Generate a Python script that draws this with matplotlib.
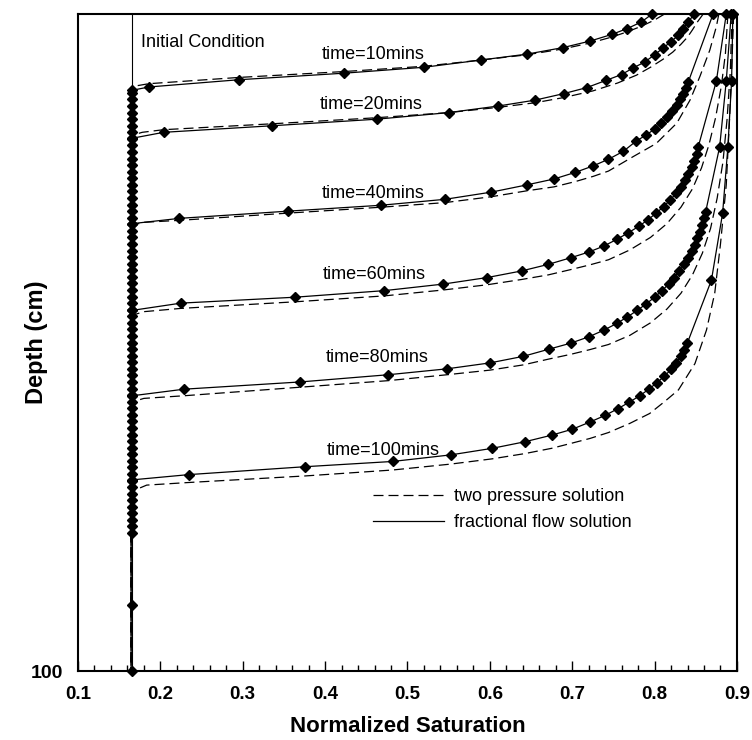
import matplotlib
matplotlib.use('Agg')
import matplotlib.pyplot as plt
from matplotlib.ticker import MultipleLocator

plt.rcParams['font.family'] = ['Liberation Sans', 'DejaVu Sans']

# initial saturation column (fractional flow markers below the fronts)
init_sat = 0.166
init_depth = [0, 100]
column_depth = [12, 13, 14, 15, 16, 17, 18, 19, 20, 21, 22, 23, 24, 25, 26, 27,
                28, 29, 30, 31, 32, 33, 34, 35, 36, 37, 38, 39, 40, 41, 42, 43,
                44, 45, 46, 47, 48, 49, 50, 51, 52, 53, 54, 55, 56, 57, 58, 59,
                60, 61, 62, 63, 64, 65, 66, 67, 68, 69, 70, 71, 72, 73, 74, 75,
                76, 77, 78, 79, 90, 100]

# fractional flow solution (solid, diamonds)
ff_s10 = [0.797, 0.784, 0.767, 0.748, 0.722, 0.689, 0.645, 0.589, 0.520, 0.423,
          0.295, 0.186, 0.166]
ff_d10 = [0.0, 1.2, 2.2, 3.1, 4.1, 5.1, 6.1, 7.0, 8.1, 9.0, 10.0, 11.1, 11.6]

ff_s20 = [0.848, 0.841, 0.835, 0.829, 0.820, 0.810, 0.800, 0.788, 0.774, 0.760,
          0.741, 0.7175, 0.690, 0.655, 0.610, 0.550, 0.463, 0.336, 0.204, 0.166]
ff_d20 = [0.0, 1.2, 2.2, 3.2, 4.2, 5.2, 6.2, 7.3, 8.2, 9.2, 10.1, 11.2, 12.1,
          13.1, 14.0, 15.0, 16.0, 17.0, 18.0, 18.9]

ff_s40 = [0.871, 0.841, 0.838, 0.835, 0.831, 0.827, 0.821, 0.815, 0.808, 0.800,
          0.790, 0.778, 0.762, 0.744, 0.7256, 0.7037, 0.678, 0.645, 0.602,
          0.5455, 0.468, 0.355, 0.223, 0.166]
ff_d40 = [0.0, 10.3, 11.2, 12.1, 13.0, 13.9, 14.8, 15.7, 16.6, 17.5, 18.4, 19.3,
          20.9, 22.1, 23.1, 24.1, 25.1, 26.0, 27.1, 28.2, 29.1, 30.0, 31.1, 31.9]

ff_s60 = [0.887, 0.875, 0.853, 0.851, 0.848, 0.845, 0.841, 0.837, 0.832, 0.826,
          0.819, 0.811, 0.802, 0.792, 0.781, 0.768, 0.754, 0.7386, 0.7207,
          0.698, 0.671, 0.6386, 0.597, 0.5435, 0.4718, 0.3634, 0.225, 0.166]
ff_d60 = [0.0, 10.2, 20.2, 21.3, 22.3, 23.3, 24.3, 25.3, 26.3, 27.3, 28.3, 29.3,
          30.3, 31.3, 32.3, 33.3, 34.3, 35.3, 36.2, 37.1, 38.1, 39.1, 40.1,
          41.1, 42.1, 43.1, 44.0, 45.1]

ff_s80 = [0.893, 0.887, 0.879, 0.862, 0.860, 0.858, 0.855, 0.852, 0.849, 0.845,
          0.841, 0.836, 0.830, 0.824, 0.817, 0.809, 0.800, 0.790, 0.779, 0.767,
          0.754, 0.7386, 0.7207, 0.698, 0.672, 0.6406, 0.600, 0.548, 0.4767,
          0.3695, 0.2287, 0.166]
ff_d80 = [0.0, 10.2, 20.2, 30.1, 31.1, 32.1, 33.1, 34.1, 35.1, 36.1, 37.1, 38.1,
          39.1, 40.1, 41.1, 42.1, 43.1, 44.1, 45.1, 46.1, 47.1, 48.1, 49.1,
          50.1, 51.0, 52.1, 53.1, 54.0, 54.9, 56.0, 57.1, 58.1]

ff_s100 = [0.895, 0.8935, 0.889, 0.8826, 0.869, 0.8397, 0.836, 0.832, 0.826,
           0.820, 0.812, 0.803, 0.793, 0.782, 0.769, 0.755, 0.7397, 0.7215,
           0.700, 0.675, 0.6426, 0.603, 0.5525, 0.482, 0.3756, 0.2348, 0.166]
ff_d100 = [0.0, 10.2, 20.2, 30.3, 40.5, 50.1, 51.1, 52.1, 53.1, 54.1, 55.1,
           56.1, 57.1, 58.1, 59.1, 60.1, 61.1, 62.1, 63.2, 64.1, 65.1, 66.1,
           67.1, 68.1, 68.9, 70.1, 70.9]

# two pressure solution (dashed)
tp_s10 = [0.812, 0.800, 0.785, 0.767, 0.748, 0.722, 0.689, 0.645, 0.589, 0.520,
          0.423, 0.295, 0.186, 0.172, 0.1645, 0.1645]
tp_d10 = [0.0, 0.9, 1.8, 2.7, 3.5, 4.4, 5.3, 6.2, 7.0, 7.95, 8.75, 9.65, 10.6,
          10.9, 11.2, 100]

tp_s20 = [0.859, 0.852, 0.846, 0.840, 0.832, 0.822, 0.810, 0.795, 0.778, 0.755,
          0.725, 0.690, 0.655, 0.610, 0.550, 0.460, 0.336, 0.204, 0.178, 0.1645,
          0.1645]
tp_d20 = [0.0, 1.2, 2.4, 3.5, 4.6, 5.8, 6.9, 8.1, 9.3, 10.5, 11.7, 12.7, 13.5,
          14.2, 15.0, 15.8, 16.7, 17.6, 18.0, 18.5, 100]

tp_s40 = [0.878, 0.875, 0.867, 0.855, 0.843, 0.827, 0.802, 0.774, 0.744, 0.7256,
          0.7037, 0.678, 0.645, 0.602, 0.5455, 0.468, 0.355, 0.223, 0.180,
          0.1645, 0.1645]
tp_d40 = [0.0, 1.9, 5.5, 9.5, 13.1, 16.6, 19.7, 21.7, 23.9, 24.7, 25.5, 26.3,
          26.9, 27.8, 28.7, 29.4, 30.3, 31.4, 31.7, 32.2, 100]

tp_s60 = [0.889, 0.886, 0.881, 0.874, 0.866, 0.857, 0.846, 0.832, 0.815, 0.795,
          0.770, 0.744, 0.7207, 0.698, 0.671, 0.6386, 0.597, 0.5435, 0.4718,
          0.3634, 0.225, 0.180, 0.1645, 0.1645]
tp_d60 = [0.0, 6.0, 11.0, 15.8, 19.9, 23.4, 26.6, 29.4, 31.9, 34.0, 35.9, 37.4,
          38.2, 38.9, 39.7, 40.4, 41.2, 42.0, 42.9, 43.8, 44.8, 45.3, 45.9, 100]

tp_s80 = [0.894, 0.892, 0.888, 0.883, 0.876, 0.868, 0.858, 0.846, 0.832, 0.815,
          0.795, 0.770, 0.744, 0.7207, 0.698, 0.672, 0.6406, 0.600, 0.548,
          0.4767, 0.3695, 0.2287, 0.180, 0.1645, 0.1645]
tp_d80 = [0.0, 8.5, 16.0, 22.5, 28.0, 32.6, 36.4, 39.7, 42.5, 44.9, 47.0, 48.9,
          50.3, 51.1, 51.8, 52.5, 53.4, 54.2, 54.9, 55.8, 56.8, 58.1, 58.5,
          59.1, 100]

tp_s100 = [0.896, 0.894, 0.891, 0.887, 0.880, 0.873, 0.863, 0.849, 0.829, 0.812,
           0.794, 0.770, 0.744, 0.7215, 0.700, 0.675, 0.6426, 0.603, 0.5525,
           0.482, 0.3764, 0.2348, 0.1834, 0.1645, 0.1645]
tp_d100 = [0.0, 7.0, 16.0, 26.0, 35.0, 42.5, 48.1, 53.2, 57.2, 59.0, 60.8, 62.3,
           63.7, 64.6, 65.3, 66.1, 66.9, 67.7, 68.5, 69.4, 70.3, 71.3, 71.7,
           72.7, 100]

# curve labels
time_labels = ['time=10mins', 'time=20mins', 'time=40mins', 'time=60mins',
               'time=80mins', 'time=100mins']
label_s = [0.458, 0.4565, 0.4585, 0.460, 0.4634, 0.4706]
label_d = [6.2, 13.7, 27.3, 39.7, 52.3, 66.4]

x_ticks = [0.1, 0.2, 0.3, 0.4, 0.5, 0.6, 0.7, 0.8, 0.9]

fig = plt.figure(figsize=(7.52, 7.40), dpi=100)
ax = fig.add_axes([0.1037, 0.0932, 0.8763, 0.8878])

dash = (0, (8, 4))
ff_curves = [(ff_s10, ff_d10), (ff_s20, ff_d20), (ff_s40, ff_d40),
             (ff_s60, ff_d60), (ff_s80, ff_d80), (ff_s100, ff_d100)]
tp_curves = [(tp_s10, tp_d10), (tp_s20, tp_d20), (tp_s40, tp_d40),
             (tp_s60, tp_d60), (tp_s80, tp_d80), (tp_s100, tp_d100)]

for i, (s, d) in enumerate(tp_curves):
    ax.plot(s, d, color='black', lw=0.9, linestyle=dash,
            label='two pressure solution' if i == 0 else None)

ax.plot([init_sat, init_sat], init_depth, color='black', lw=0.8)

for i, (s, d) in enumerate(ff_curves):
    ax.plot(s, d, color='black', lw=0.9, marker='D', markersize=5,
            clip_on=False,
            label='fractional flow solution' if i == 0 else None)

ax.plot([init_sat] * len(column_depth), column_depth, color='black', lw=0.9,
        marker='D', markersize=5, linestyle='none', clip_on=False)

ax.text(0.176, 4.4, 'Initial Condition', fontsize=13, ha='left', va='center')
for lab, s, d in zip(time_labels, label_s, label_d):
    ax.text(s, d, lab, fontsize=13, ha='center', va='center')

handles, labels = ax.get_legend_handles_labels()
leg = ax.legend(handles, labels, loc='upper left',
                bbox_to_anchor=(0.448, 0.278), frameon=False, fontsize=13,
                handlelength=3.9, handletextpad=0.6, labelspacing=0.5,
                borderaxespad=0, borderpad=0)
for h in leg.legend_handles:
    h.set_marker('')

ax.set_xlim(0.1, 0.9)
ax.set_ylim(100, 0)
ax.set_xticks(x_ticks)
ax.set_xticklabels([str(t) for t in x_ticks], fontsize=13.5, fontweight='bold')
ax.xaxis.set_minor_locator(MultipleLocator(0.02))
ax.tick_params(axis='x', which='major', direction='in', length=7, width=1,
               pad=11)
ax.tick_params(axis='x', which='minor', direction='in', length=4, width=1)
ax.set_yticks([100])
ax.set_yticklabels(['100'], fontsize=14, fontweight='bold')
ax.tick_params(axis='y', length=0, pad=11)

for sp in ax.spines.values():
    sp.set_linewidth(1.5)

ax.set_xlabel('Normalized Saturation', fontsize=16, fontweight='bold',
              labelpad=9)
ax.set_ylabel('Depth (cm)', fontsize=17, fontweight='bold')
ax.yaxis.set_label_coords(-0.045, 0.5)

fig.savefig('out.png', dpi=100)
